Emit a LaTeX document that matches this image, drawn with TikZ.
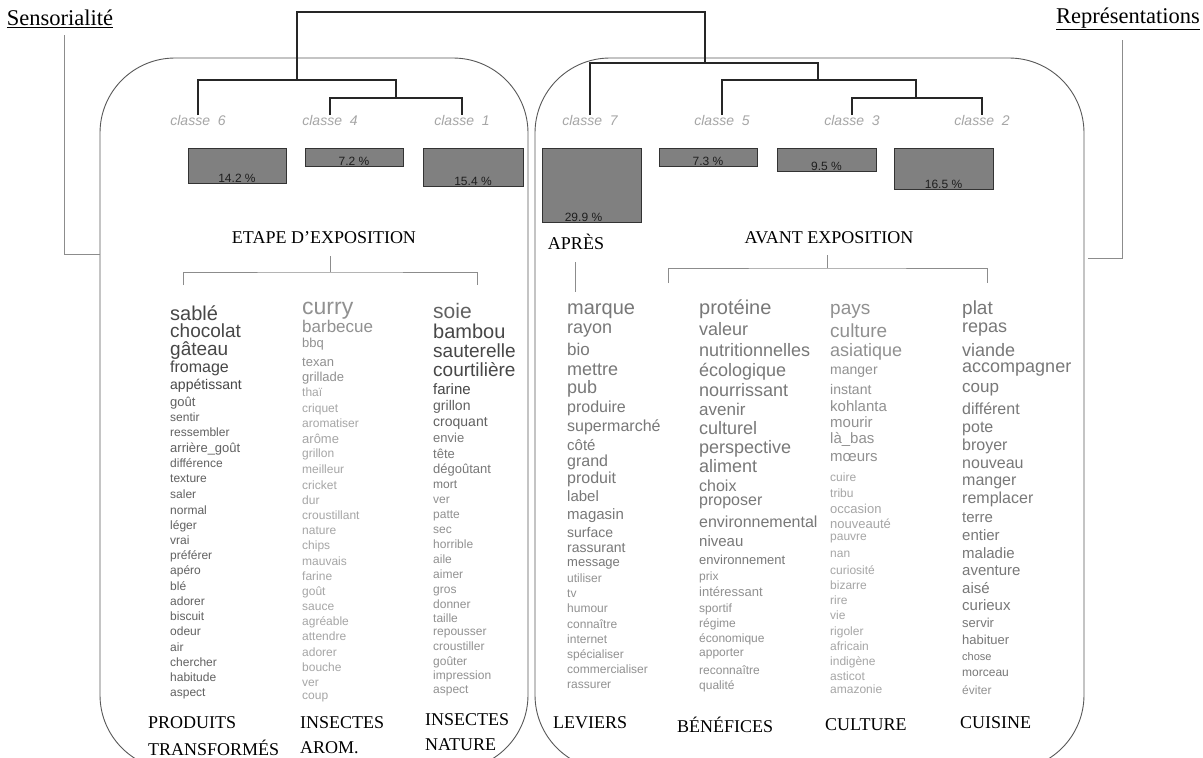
\documentclass[tikz,border=0pt]{standalone}
\usepackage{fontspec}
\setmainfont{Liberation Serif}
\newfontfamily\ar{Liberation Sans}
\colorlet{c1}{black!72}
\colorlet{c2}{black!62}
\colorlet{c3}{black!53}
\colorlet{c4}{black!43}
\colorlet{c5}{black!35}
\begin{document}
\begin{tikzpicture}[x=1pt,y=-1pt,
  dendro/.style={draw=black!85,line width=1.3pt},
  rbox/.style={draw=black!65,line width=0.9pt,rounded corners=75pt},
  brk/.style={draw=black!45,line width=0.8pt},
  cls/.style={font=\ar\itshape\fontsize{14}{14}\selectfont,text=black!35,inner sep=0pt,anchor=north,text height=10pt,text depth=0pt},
  bar/.style={draw=black!80,fill=black!50,line width=0.9pt,anchor=north,inner sep=0pt},
  pct/.style={font=\ar\fontsize{12}{12}\selectfont,text=black!88,inner sep=0pt,anchor=base},
  wrd/.style={inner sep=0pt,anchor=west,text height=.72em,text depth=.2em},
  head/.style={font=\fontsize{18}{18}\selectfont,inner sep=0pt},
  lab/.style={font=\fontsize{18}{18}\selectfont,inner sep=0pt,anchor=west},
  side/.style={font=\fontsize{22.5}{22.5}\selectfont,inner sep=0pt}]
\useasboundingbox (0,0) rectangle (1203,758);
\clip (0,0) rectangle (1203,758);
\fill[white] (0,0) rectangle (1203,758);
% group boxes
\draw[rbox] (100,58) rectangle (528,770);
\draw[rbox] (535,58) rectangle (1084,770);
% side titles
\node[side] (sens) at (60,19) {\underline{Sensorialité}};
\node[side] (repr) at (1128,19) {\underline{Représentations}};
\coordinate (sensTop) at (64,35);
\coordinate (sensEnd) at (100,254);
\draw[brk] (sensTop) |- (sensEnd);
\coordinate (reprTop) at (1122,40);
\coordinate (reprEnd) at (1088,258);
\draw[brk] (reprTop) |- (reprEnd);
% class labels
\node[cls] (k6) at (198,115) {classe\ \ 6};
\node[cls] (k4) at (330,115) {classe\ \ 4};
\node[cls] (k1) at (462,115) {classe\ \ 1};
\node[cls] (k7) at (590,115) {classe\ \ 7};
\node[cls] (k5) at (722,115) {classe\ \ 5};
\node[cls] (k3) at (852,115) {classe\ \ 3};
\node[cls] (k2) at (982,115) {classe\ \ 2};
% dendrogram
\coordinate (jb) at (396,98);
\coordinate (ja) at (297,80);
\coordinate (root) at (500,12);
\coordinate (jr) at (705,63);
\coordinate (jc) at (818,80);
\coordinate (jd) at (916,98);
\draw[dendro] (k4.north) |- (jb) -| (k1.north);
\draw[dendro] (k6.north) |- (ja) -| (jb);
\draw[dendro] (ja) |- (root) -| (jr);
\draw[dendro] (k7.north) |- (jr) -| (jc);
\draw[dendro] (k5.north) |- (jc) -| (jd);
\draw[dendro] (k3.north) |- (jd) -| (k2.north);
% bars
\node[bar,minimum width=98pt,minimum height=35pt] (b6) at (237,148) {};
\node[bar,minimum width=98pt,minimum height=18pt] (b4) at (354,148) {};
\node[bar,minimum width=100pt,minimum height=38pt] (b1) at (473,148) {};
\node[bar,minimum width=99pt,minimum height=74pt] (b7) at (591.5,148) {};
\node[bar,minimum width=98pt,minimum height=18pt] (b5) at (708,148) {};
\node[bar,minimum width=99pt,minimum height=23pt] (b3) at (826.5,148) {};
\node[bar,minimum width=99pt,minimum height=41pt] (b2) at (943.5,148) {};
\node[pct] at ([yshift=1pt]b6.south) {14.2 \%};
\node[pct] at ([yshift=1pt]b4.south) {7.2 \%};
\node[pct] at ([yshift=1pt]b1.south) {15.4 \%};
\node[pct] at ([yshift=1pt,xshift=-8pt]b7.south) {29.9 \%};
\node[pct] at ([yshift=1pt]b5.south) {7.3 \%};
\node[pct] at ([yshift=1pt]b3.south) {9.5 \%};
\node[pct] at ([yshift=1pt]b2.south) {16.5 \%};
% headings
\node[head] (etape) at (324,238) {ETAPE D’EXPOSITION};
\node[head] (apres) at (576,242) {APRÈS};
\node[head] (avant) at (829,238) {AVANT EXPOSITION};
% brackets
\coordinate (lb1) at (183,285); \coordinate (lb2) at (477,285);
\coordinate (lbt) at (330,256); \coordinate (lbm) at (330,272);
\draw[brk] (lb1) |- (lbm) -| (lb2);
\draw[brk] (lbt) -- (lbm);
\coordinate (rb1) at (668,283); \coordinate (rb2) at (987,283);
\coordinate (rbt) at (827,255); \coordinate (rbm) at (827,268);
\draw[brk] (rb1) |- (rbm) -| (rb2);
\draw[brk] (rbt) -- (rbm);
\coordinate (apt) at (575,262); \coordinate (apb) at (575,292);
\draw[brk] (apt) -- (apb);
% word columns
\foreach \tx/\yy/\sz/\cl in {sablé/318/20/c1, chocolat/335/19/c1, gâteau/353/19/c1, fromage/370/16/c1, appétissant/387/14/c1, goût/404/13/c2, sentir/419/12/c2, ressembler/434/12/c2, arrière\_goût/450/13/c2, différence/465/12/c2, texture/480/12/c2, saler/496/12/c2, normal/512/12/c2, léger/527/12/c2, vrai/542/12/c2, préférer/557/12/c2, apéro/572/12/c2, blé/588/12/c2, adorer/603/12/c2, biscuit/618/12/c2, odeur/633/12/c2, air/649/12/c2, chercher/664/12/c2, habitude/679/12/c2, aspect/694/12/c2}
  \node[wrd,font=\ar\fontsize{\sz}{\sz}\selectfont,text=\cl] at (170,\yy) {\tx};
\foreach \tx/\yy/\sz/\cl in {curry/312/23/c4, barbecue/330/17/c4, bbq/345/13/c4, texan/364/13/c4, grillade/379/13/c4, thaï/394/12/c5, criquet/410/12/c5, aromatiser/425/12/c5, arôme/441/13/c5, grillon/455/12/c5, meilleur/471/12/c5, cricket/487/12/c5, dur/502/12/c5, croustillant/517/12/c5, nature/532/12/c5, chips/547/12/c5, mauvais/563/12/c5, farine/578/12/c5, goût/593/12/c5, sauce/608/12/c5, agréable/623/12/c5, attendre/638/12/c5, adorer/654/12/c5, bouche/669/12/c5, ver/684/12/c5, coup/697/12/c5}
  \node[wrd,font=\ar\fontsize{\sz}{\sz}\selectfont,text=\cl] at (302,\yy) {\tx};
\foreach \tx/\yy/\sz/\cl in {soie/316/21/c2, bambou/336/20/c1, sauterelle/355/19/c1, courtilière/374/19/c1, farine/392/15/c1, grillon/408/14/c2, croquant/424/14/c2, envie/440/13/c3, tête/456/13/c3, dégoûtant/471/13/c3, mort/486/12/c3, ver/501/12/c4, patte/516/12/c4, sec/531/12/c4, horrible/546/12/c4, aile/561/12/c4, aimer/576/12/c4, gros/591/12/c4, donner/606/12/c4, taille/620/12/c4, repousser/633/12/c4, croustiller/648/12/c4, goûter/663/12/c4, impression/677/12/c4, aspect/691/12/c4}
  \node[wrd,font=\ar\fontsize{\sz}{\sz}\selectfont,text=\cl] at (433,\yy) {\tx};
\foreach \tx/\yy/\sz/\cl in {marque/312/20/c3, rayon/331/18/c3, bio/353/17/c3, mettre/373/18/c3, pub/391/18/c3, produire/410/16/c3, supermarché/429/16/c3, côté/448/15/c3, grand/464/16/c3, produit/481/16/c3, label/499/15/c3, magasin/517/15/c3, surface/535/14/c3, rassurant/550/14/c3, message/564/13/c3, utiliser/580/12/c4, tv/595/12/c4, humour/610/12/c4, connaître/626/12/c4, internet/641/12/c4, spécialiser/656/12/c4, commercialiser/671/12/c4, rassurer/686/12/c4}
  \node[wrd,font=\ar\fontsize{\sz}{\sz}\selectfont,text=\cl] at (567,\yy) {\tx};
\foreach \tx/\yy/\sz/\cl in {protéine/312/20/c3, valeur/333/18/c3, nutritionnelles/354/18/c3, écologique/374/18/c3, nourrissant/394/18/c3, avenir/413/17/c3, culturel/432/18/c3, perspective/451/18/c3, aliment/470/18/c3, choix/489/16/c3, proposer/503/16/c3, environnemental/525/16/c3, niveau/544/15/c3, environnement/562/13/c3, prix/578/12/c4, intéressant/594/13/c4, sportif/610/12/c4, régime/625/12/c4, économique/640/12/c4, apporter/654/12/c4, reconnaître/672/12/c4, qualité/687/12/c4}
  \node[wrd,font=\ar\fontsize{\sz}{\sz}\selectfont,text=\cl] at (699,\yy) {\tx};
\foreach \tx/\yy/\sz/\cl in {pays/312/19/c4, culture/335/19/c4, asiatique/354/18/c4, manger/372/14/c4, instant/392/14/c4, kohlanta/409/15/c4, mourir/425/15/c4, là\_bas/441/15/c4, mœurs/459/15/c4, cuire/479/12/c5, tribu/495/12/c5, occasion/511/13/c5, nouveauté/526/13/c5, pauvre/538/12/c5, nan/555/12/c5, curiosité/572/12/c5, bizarre/587/12/c5, rire/602/12/c5, vie/617/12/c5, rigoler/633/12/c5, africain/648/12/c5, indigène/663/12/c5, asticot/678/12/c5, amazonie/691/12/c5}
  \node[wrd,font=\ar\fontsize{\sz}{\sz}\selectfont,text=\cl] at (830,\yy) {\tx};
\foreach \tx/\yy/\sz/\cl in {plat/312/19/c3, repas/330/18/c3, viande/354/18/c3, accompagner/370/18/c3, coup/390/17/c3, différent/412/16/c3, pote/430/16/c3, broyer/448/16/c3, nouveau/466/16/c3, manger/483/16/c3, remplacer/501/16/c3, terre/520/15/c3, entier/538/15/c3, maladie/556/15/c3, aventure/573/15/c3, aisé/591/15/c3, curieux/608/15/c3, servir/625/13/c3, habituer/642/13/c3, chose/658/11/c3, morceau/674/12/c3, éviter/692/12/c4}
  \node[wrd,font=\ar\fontsize{\sz}{\sz}\selectfont,text=\cl] at (962,\yy) {\tx};
% bottom labels
\node[lab] (l1a) at (148,723) {PRODUITS};
\node[lab] (l1b) at (148,748) {TRANSFORMÉS};
\node[lab] (l2a) at (300,723) {INSECTES};
\node[lab] (l2b) at (300,748) {AROM.};
\node[lab] (l3a) at (425,720) {INSECTES};
\node[lab] (l3b) at (425,745) {NATURE};
\node[lab] (l4) at (553,723) {LEVIERS};
\node[lab] (l5) at (677,725) {BÉNÉFICES};
\node[lab] (l6) at (825,725) {CULTURE};
\node[lab] (l7) at (960,723) {CUISINE};
\end{tikzpicture}
\end{document}
